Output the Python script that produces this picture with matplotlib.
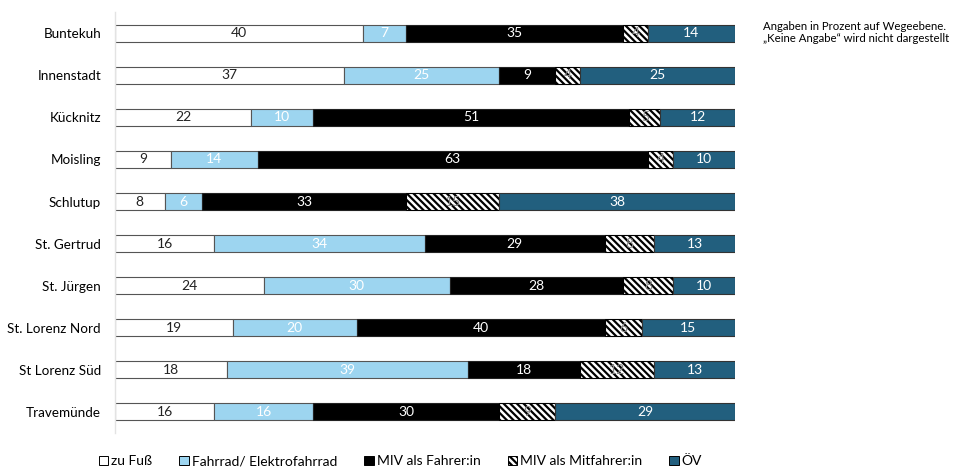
import matplotlib
matplotlib.use("Agg")
import matplotlib.pyplot as plt
from matplotlib.patches import Patch
import numpy as np

plt.rcParams['font.family'] = ['Lato', 'DejaVu Sans']
plt.rcParams['hatch.linewidth'] = 1.6

districts = ["Buntekuh", "Innenstadt", "Kücknitz", "Moisling", "Schlutup",
             "St. Gertrud", "St. Jürgen", "St. Lorenz Nord", "St Lorenz Süd", "Travemünde"]
series = ["zu Fuß", "Fahrrad/ Elektrofahrrad", "MIV als Fahrer:in", "MIV als Mitfahrer:in", "ÖV"]

zu_fuss   = [40, 37, 22, 9, 8, 16, 24, 19, 18, 16]
fahrrad   = [7, 25, 10, 14, 6, 34, 30, 20, 39, 16]
miv_fahr  = [35, 9, 51, 63, 33, 29, 28, 40, 18, 30]
miv_mit   = [4, 4, 5, 4, 15, 8, 8, 6, 12, 9]
oev       = [14, 25, 12, 10, 38, 13, 10, 15, 13, 29]

values = [zu_fuss, fahrrad, miv_fahr, miv_mit, oev]
faces = ["white", "#9dd5f0", "black", "white", "#225f7e"]
edges = ["#555555", "#555555", "#222222", "black", "#333333"]
hatches = [None, None, None, "\\\\\\\\\\", None]
text_colors = ["#222222", "white", "white", "#888888", "white"]

fig = plt.figure(figsize=(9.58, 4.69), dpi=100)
ax = fig.add_axes([0.12, 0.077, 0.647, 0.897])

y = np.arange(len(districts))
left = np.zeros(len(districts))
for vals, fc, ec, h, tc, name in zip(values, faces, edges, hatches, text_colors, series):
    vals = np.array(vals, dtype=float)
    ax.barh(y, vals, left=left, height=0.4, color=fc, edgecolor=ec,
            linewidth=0.8, hatch=h, label=name)
    for yi, l, v in zip(y, left, vals):
        ax.text(l + v / 2, yi, f"{int(v)}", ha="center", va="center",
                color=tc, fontsize=10)
    left += vals

ax.set_xlim(0, 100)
ax.set_ylim(len(districts) - 0.5, -0.5)
ax.set_yticks(y)
ax.set_yticklabels(districts, fontsize=9.7)
ax.tick_params(axis="y", length=0, pad=10)
ax.set_xticks([])
for s in ["top", "right", "bottom"]:
    ax.spines[s].set_visible(False)
ax.spines["left"].set_color("#e3e3e3")
ax.spines["left"].set_linewidth(1.0)

handles = [Patch(facecolor=fc, edgecolor="black", hatch=h, linewidth=0.7)
           for fc, h in zip(faces, hatches)]
fig.legend(handles, series, loc="center", bbox_to_anchor=(0.418, 0.016),
           ncol=5, frameon=False, fontsize=10, handlelength=0.7,
           handleheight=0.7, handletextpad=0.2, columnspacing=1.95)

fig.text(0.796, 0.93, "Angaben in Prozent auf Wegeebene.\n„Keine Angabe“ wird nicht dargestellt",
         fontsize=8.2, va="center", ha="left", linespacing=1.1)

fig.savefig("out.png", dpi=100)
